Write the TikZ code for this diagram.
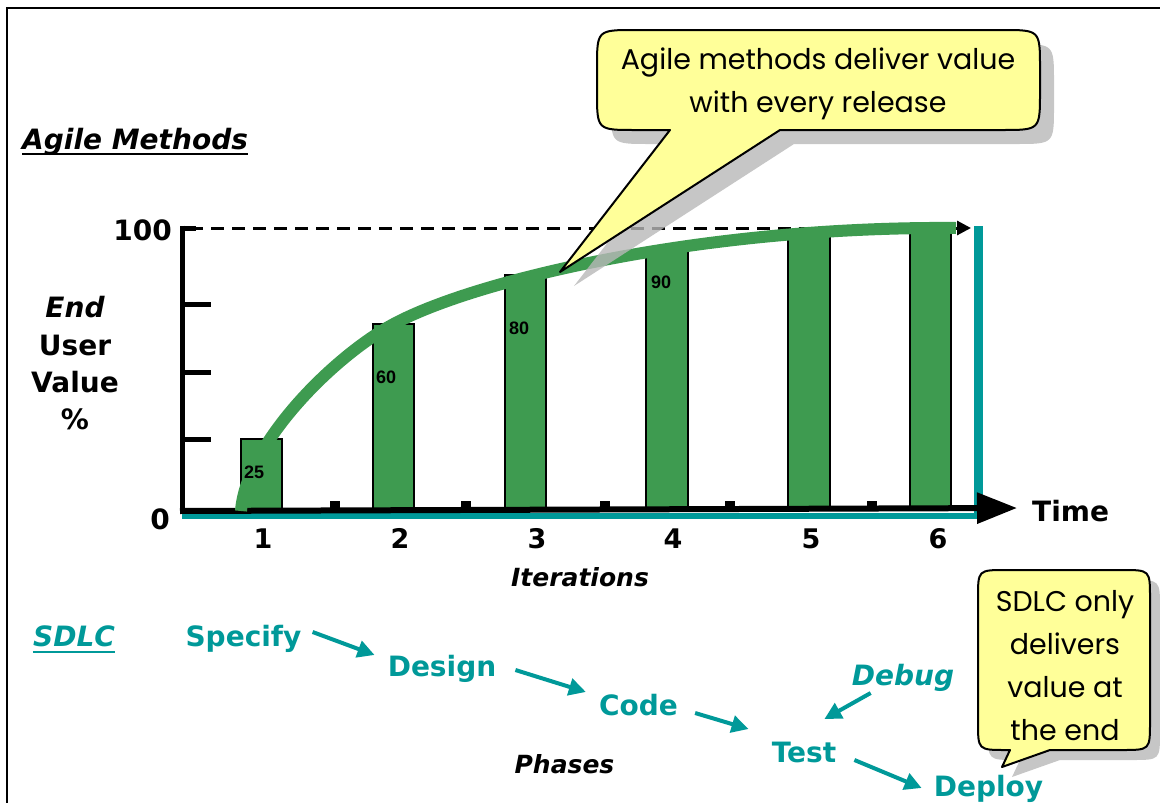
\documentclass[tikz,border=0pt]{standalone}
\usepackage{fontspec}
\setmainfont{DejaVu Sans}
\newfontfamily\calloutfont{Poppins}
\newfontfamily\arialfont{Liberation Sans}
\usetikzlibrary{arrows.meta,calc}
\definecolor{barg}{HTML}{3E9B50}
\definecolor{tealc}{HTML}{009999}
\definecolor{callyel}{HTML}{FFFF99}
\definecolor{shgray}{HTML}{B8B8B8}
\begin{document}
\begin{tikzpicture}[x=1pt,y=-1pt,
  lbl/.style={font=\bfseries\fontsize{28pt}{30pt}\selectfont, inner sep=0pt, anchor=base},
  ilbl/.style={lbl, font=\bfseries\itshape\fontsize{28pt}{30pt}\selectfont},
  phase/.style={lbl, text=tealc},
  iphase/.style={ilbl, text=tealc},
  num/.style={lbl, font=\bfseries\fontsize{27pt}{30pt}\selectfont},
  barlbl/.style={font=\arialfont\bfseries\fontsize{18pt}{20pt}\selectfont, inner sep=0pt, anchor=base west},
  bar/.style={fill=barg, draw=black, line width=2.2pt},
  tarr/.style={draw=tealc, line width=4pt, -{Triangle[length=17pt,width=17pt]}},
  ctext/.style={font=\calloutfont\fontsize{28.5pt}{43pt}\selectfont, align=center, inner sep=0pt},
  callout/.style={fill=callyel, draw=black, line width=2pt, line join=round},
  shadow/.style={fill=shgray, opacity=0.8},
  ytick/.style={draw=black, line width=5pt}
]
\useasboundingbox (0,0) rectangle (1160,803);
% frame
\draw[line width=2.5pt] (7,803) -- (7,8) -- (1160,8);

% headings
\node[ilbl, anchor=base west] (agile) at (22,149) {Agile Methods};
\draw[line width=2.5pt] ($(agile.base west)+(0,5)$) -- ($(agile.base east)+(0,5)$);

% y axis label
\node[ilbl] (yl1) at (75,317) {End};
\node[lbl] (yl2) at (75,355) {User};
\node[lbl] (yl3) at (75,392) {Value};
\node[lbl] (yl4) at (75,429) {\%};

% bars
\draw[bar] (241,510) rectangle (282,439);
\draw[bar] (373,510) rectangle (414,324);
\draw[bar] (505,510) rectangle (546,275);
\draw[bar] (646,510) rectangle (688,250);
\draw[bar] (788,510) rectangle (830,236);
\draw[bar] (910,510) rectangle (951,229);

% teal lines
\draw[tealc, line width=6pt] (182,515.5) -- (980,515.5);
\draw[tealc, line width=9pt] (978,226) -- (978,518);

% dashed 100 line
\draw[line width=3pt, dash pattern=on 13pt off 8pt, -{Triangle[length=14pt,width=14pt]}] (190,228) -- (971,228);

% axes
\draw[line width=5pt] (182,225.5) -- (182,512);
\draw[line width=5pt] (180,228) -- (196,228);
\foreach \yy in {304,372,439} \draw[ytick] (182,\yy) -- (211,\yy);
\draw[line width=6pt, -{Triangle[length=40pt,width=30pt]}] (180,511) -- (1017,508);
\foreach \xx in {335,466,605,730,872} \fill (\xx-5,509) rectangle (\xx+5,501);

% value curve
\draw[barg, line width=12pt] (241,511) .. controls (246,445) and (330,360) .. (390,326)
      .. controls (470,281) and (700,226) .. (956,228);

\node[barlbl] (b1) at (244,478) {25};
\node[barlbl] (b2) at (376,383) {60};
\node[barlbl] (b3) at (509,334) {80};
\node[barlbl] (b4) at (651,288) {90};

% axis labels
\node[lbl, anchor=base east] (y100) at (172,240) {100};
\node[lbl] (y0) at (160,529) {0};
\node[lbl, anchor=base west] (time) at (1032,521) {Time};
\node[num] (n1) at (263,548) {1};
\node[num] (n2) at (400,548) {2};
\node[num] (n3) at (537,548) {3};
\node[num] (n4) at (673,548) {4};
\node[num] (n5) at (811,548) {5};
\node[num] (n6) at (938,548) {6};
\node[ilbl, font=\bfseries\itshape\fontsize{25pt}{28pt}\selectfont] (iter) at (580,586) {Iterations};

% callout 1
\begin{scope}[shift={(14,14)}]
\fill[shadow] (560,272) -- (780,130) -- (1002,130) .. controls (1040,130) .. (1040,92) -- (1040,68) .. controls (1040,30) .. (1002,30) -- (635,30) .. controls (597,30) .. (597,68) -- (597,92) .. controls (597,130) .. (635,130) -- (670,130) -- cycle;
\end{scope}
\draw[callout] (560,272) -- (780,130) -- (1002,130) .. controls (1040,130) .. (1040,92) -- (1040,68) .. controls (1040,30) .. (1002,30) -- (635,30) .. controls (597,30) .. (597,68) -- (597,92) .. controls (597,130) .. (635,130) -- (670,130) -- cycle;
\node[ctext] (c1) at (818,84) {Agile methods deliver value\\with every release};

% SDLC part
\node[iphase] (sdlc) at (74,646) {SDLC};
\draw[tealc, line width=2.5pt] ($(sdlc.base west)+(0,6)$) -- ($(sdlc.base east)+(0,6)$);
\node[phase] (spec) at (243.5,646) {Specify};
\node[phase] (des) at (442,676) {Design};
\node[phase] (code) at (638.5,715) {Code};
\node[phase] (test) at (804,762) {Test};
\node[phase] (dep) at (988.5,796) {Deploy};
\node[iphase] (dbg) at (903,685) {Debug};
\node[ilbl, font=\bfseries\itshape\fontsize{25pt}{28pt}\selectfont] (phases) at (564.5,773) {Phases};

\draw[tarr] ($(spec.base east)+(11,-14)$) -- ($(des.base west)+(-13,-21)$);
\draw[tarr] ($(des.base east)+(19,-6)$) -- ($(code.base west)+(-13,-23)$);
\draw[tarr] ($(code.base east)+(17,-2)$) -- ($(test.base west)+(-23,-33)$);
\draw[tarr] ($(dbg.base west)+(19,8)$) -- ($(test.base east)+(-12,-43)$);
\draw[tarr] ($(test.base east)+(18,-2)$) -- ($(dep.base west)+(-12,-8)$);

% callout 2
\begin{scope}[shift={(10,10)}]
\fill[shadow] (1002,767) -- (1050,750) -- (1122,750) .. controls (1150,750) .. (1150,722) -- (1150,598) .. controls (1150,570) .. (1122,570) -- (1006,570) .. controls (978,570) .. (978,598) -- (978,722) .. controls (978,750) .. (1006,750) -- (1010,750) -- cycle;
\end{scope}
\draw[callout] (1002,767) -- (1050,750) -- (1122,750) .. controls (1150,750) .. (1150,722) -- (1150,598) .. controls (1150,570) .. (1122,570) -- (1006,570) .. controls (978,570) .. (978,598) -- (978,722) .. controls (978,750) .. (1006,750) -- (1010,750) -- cycle;
\node[ctext] (c2) at (1065,666) {SDLC only\\delivers\\value at\\the end};
\end{tikzpicture}
\end{document}
